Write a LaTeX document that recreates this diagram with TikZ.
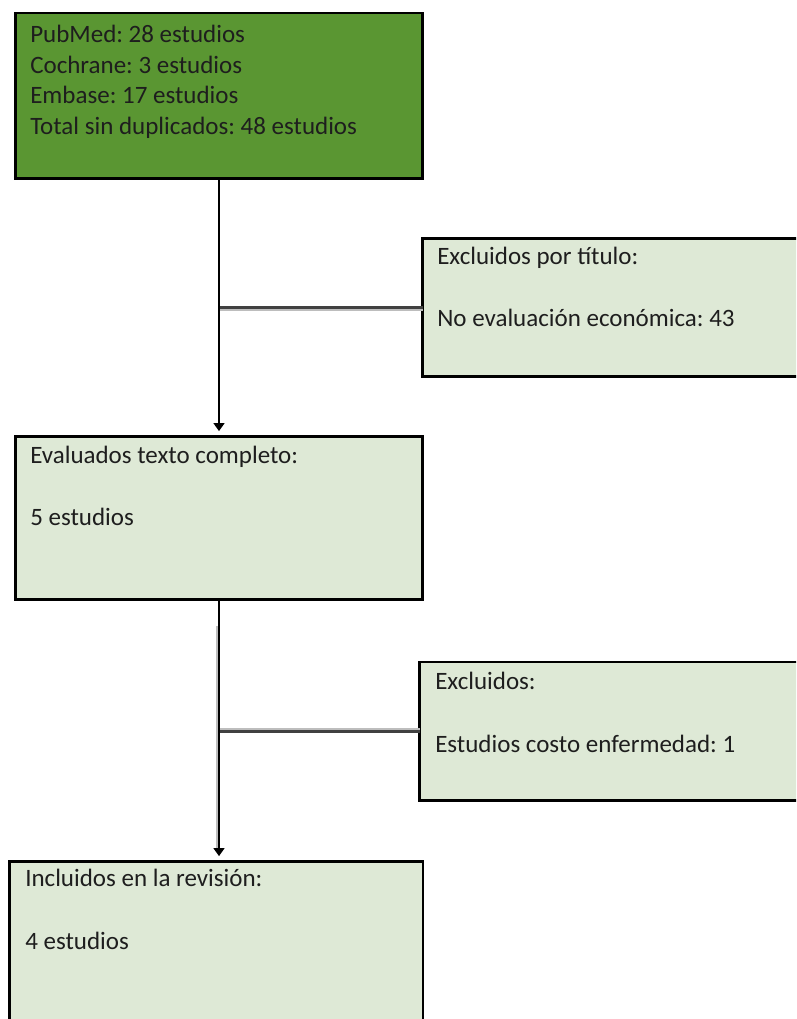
\documentclass[tikz,border=0pt]{standalone}
\usepackage{fontspec}
\setmainfont{Carlito}
\usetikzlibrary{arrows.meta}
\definecolor{darkgreen}{HTML}{5A9632}
\definecolor{lightgreen}{HTML}{DEE9D6}
\definecolor{txt}{HTML}{1E1E1E}
\definecolor{shade}{HTML}{BDBDBD}
\definecolor{hline}{HTML}{404040}
\frenchspacing
\begin{document}
\begin{tikzpicture}[x=0.75pt,y=-0.75pt,
  box/.style={draw=black, line width=1.9pt, rectangle, anchor=north west, inner sep=0pt, outer sep=0pt},
  lbl/.style={anchor=base west, inner sep=0pt, font=\fontsize{18.75}{23}\selectfont, text=txt},
  conn/.style={draw=black, line width=1.5pt},
  hconn/.style={draw=hline, line width=1.9pt},
  shadowline/.style={draw=shade, line width=1.6pt},
  tip/.style={-{Triangle[length=6pt,width=8pt]}, shorten >=4pt}]
\useasboundingbox (0,0) rectangle (796,1019);
\clip (0,0) rectangle (796,1019);

% boxes
\node[box, fill=darkgreen, minimum width=407*0.75pt, minimum height=165.5*0.75pt] (top) at (15.5,13) {};
\node[box, fill=lightgreen, minimum width=450*0.75pt, minimum height=138*0.75pt] (rb1) at (422.5,238.5) {};
\node[box, fill=lightgreen, minimum width=407*0.75pt, minimum height=163*0.75pt] (box2) at (15.5,436.5) {};
\node[box, fill=lightgreen, minimum width=450*0.75pt, minimum height=138.5*0.75pt] (rb2) at (419.5,662) {};
\node[box, fill=lightgreen, minimum width=413.5*0.75pt, minimum height=200*0.75pt] (box3) at (9.5,861.5) {};

% texts
\node[lbl] (t1) at (30,43) {PubMed: 28 estudios};
\node[lbl] (t2) at (30,73.5) {Cochrane: 3 estudios};
\node[lbl] (t3) at (30,104) {Embase: 17 estudios};
\node[lbl] (t4) at (30,135) {Total sin duplicados: 48 estudios};

\node[lbl] (r1a) at (437,265) {Excluidos por título:};
\node[lbl] (r1b) at (437,327) {No evaluación económica: 43};

\node[lbl] (b2a) at (30,463) {Evaluados texto completo:};
\node[lbl] (b2b) at (30,525) {5 estudios};

\node[lbl] (r2a) at (435,689) {Excluidos:};
\node[lbl] (r2b) at (435,752) {Estudios costo enfermedad: 1};

\node[lbl] (b3a) at (25,886) {Incluidos en la revisión:};
\node[lbl] (b3b) at (25,949) {4 estudios};

% shadows of connectors
\draw[shadowline, transform canvas={yshift=-1.9pt}] (rb1.west) -- (rb1.west -| top.south);
\draw[shadowline, transform canvas={yshift=1.9pt}] (rb2.west) -- (rb2.west -| box2.south);
\draw[shadowline, transform canvas={xshift=-1.5pt}] ([yshift=-20pt]box2.south) -- ([yshift=10pt]box2.south |- box3.north);

% connectors
\draw[hconn] (rb1.west) -- (rb1.west -| top.south);
\draw[hconn] (rb2.west) -- (rb2.west -| box2.south);
\draw[conn, tip] (top.south) -- (box2.north);
\draw[conn, tip] (box2.south) -- (box2.south |- box3.north);
\end{tikzpicture}
\end{document}
